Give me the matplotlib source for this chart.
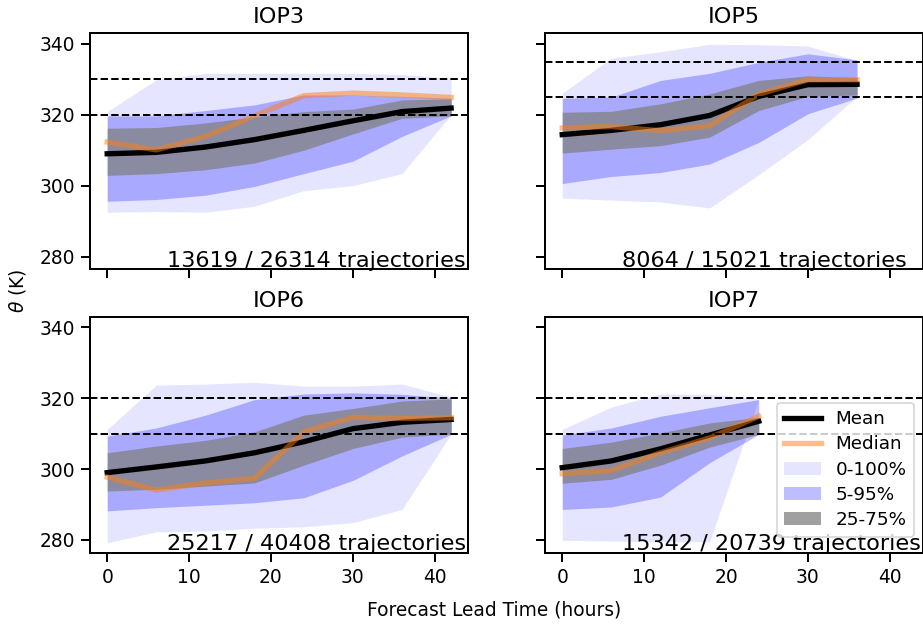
import matplotlib
matplotlib.use("Agg")
import matplotlib.pyplot as plt
from matplotlib.patches import Patch
from matplotlib.lines import Line2D

# lead times (hours)
t_iop3 = [0, 6, 12, 18, 24, 30, 36, 42]
t_iop5 = [0, 6, 12, 18, 24, 30, 36]
t_iop6 = [0, 6, 12, 18, 24, 30, 36, 42]
t_iop7 = [0, 6, 12, 18, 24]

# IOP3 theta percentiles (K)
iop3_p0 = [292.5, 292.7, 292.5, 294.2, 298.6, 300.0, 303.4, 320.0]
iop3_p100 = [320.9, 329.9, 331.7, 331.7, 331.7, 331.7, 331.4, 330.3]
iop3_p5 = [295.6, 296.1, 297.3, 299.8, 303.4, 306.9, 313.9, 319.7]
iop3_p95 = [319.7, 319.7, 321.2, 322.8, 325.6, 325.6, 325.2, 324.7]
iop3_p25 = [302.9, 303.4, 304.5, 306.4, 310.0, 314.6, 319.0, 319.7]
iop3_p75 = [316.2, 316.4, 317.7, 319.4, 320.9, 321.6, 324.2, 324.5]
iop3_mean = [309.0, 309.4, 310.9, 313.0, 315.6, 318.3, 320.9, 321.9]
iop3_median = [312.3, 310.1, 313.9, 319.7, 325.4, 326.1, 325.6, 324.9]

# IOP5
iop5_p0 = [296.5, 295.9, 295.4, 293.7, 303.1, 313.0, 325.2]
iop5_p100 = [326.1, 336.0, 337.8, 339.9, 339.8, 339.4, 335.3]
iop5_p5 = [300.6, 302.6, 303.7, 306.1, 312.2, 320.3, 324.7]
iop5_p95 = [324.7, 325.0, 329.7, 331.7, 334.8, 337.2, 335.5]
iop5_p25 = [309.2, 310.3, 311.3, 313.7, 321.2, 325.2, 325.6]
iop5_p75 = [320.7, 321.0, 323.1, 325.9, 329.7, 331.0, 330.5]
iop5_mean = [314.4, 315.6, 317.2, 319.8, 325.2, 328.5, 328.6]
iop5_median = [316.3, 316.7, 315.5, 316.9, 325.8, 329.9, 329.9]

# IOP6
iop6_p0 = [279.2, 282.3, 282.5, 283.3, 283.7, 284.9, 288.6, 309.9]
iop6_p100 = [311.2, 323.7, 324.0, 324.5, 323.4, 323.4, 324.0, 320.3]
iop6_p5 = [288.2, 289.1, 289.8, 290.5, 291.9, 296.8, 303.7, 309.8]
iop6_p95 = [309.3, 311.6, 315.2, 319.6, 321.2, 321.5, 321.1, 320.0]
iop6_p25 = [293.8, 294.3, 295.2, 296.1, 301.1, 305.8, 309.0, 309.9]
iop6_p75 = [304.6, 306.5, 308.1, 310.5, 315.2, 317.1, 319.2, 319.8]
iop6_mean = [299.0, 300.6, 302.3, 304.6, 307.7, 311.4, 313.2, 314.0]
iop6_median = [297.7, 294.1, 296.1, 297.4, 310.5, 314.6, 314.3, 314.5]

# IOP7
iop7_p0 = [279.9, 279.7, 279.5, 279.5, 319.8]
iop7_p100 = [311.2, 317.5, 321.2, 321.1, 319.8]
iop7_p5 = [288.6, 289.3, 292.1, 301.8, 309.8]
iop7_p95 = [309.6, 311.6, 314.9, 317.3, 319.6]
iop7_p25 = [296.0, 297.1, 301.1, 306.2, 309.8]
iop7_p75 = [305.8, 307.6, 310.2, 313.0, 314.6]
iop7_mean = [300.4, 302.3, 305.7, 309.6, 313.5]
iop7_median = [298.7, 299.6, 304.6, 308.8, 314.9]

names = ["IOP3", "IOP5", "IOP6", "IOP7"]
counts = ["13619 / 26314 trajectories", "8064 / 15021 trajectories",
          "25217 / 40408 trajectories", "15342 / 20739 trajectories"]
theta_bounds = [(320, 330), (325, 335), (310, 320), (310, 320)]

panels = [
    (t_iop3, iop3_p0, iop3_p100, iop3_p5, iop3_p95, iop3_p25, iop3_p75, iop3_mean, iop3_median),
    (t_iop5, iop5_p0, iop5_p100, iop5_p5, iop5_p95, iop5_p25, iop5_p75, iop5_mean, iop5_median),
    (t_iop6, iop6_p0, iop6_p100, iop6_p5, iop6_p95, iop6_p25, iop6_p75, iop6_mean, iop6_median),
    (t_iop7, iop7_p0, iop7_p100, iop7_p5, iop7_p95, iop7_p25, iop7_p75, iop7_mean, iop7_median),
]

plt.rcParams['font.size'] = 11.2
plt.rcParams['axes.linewidth'] = 1.2
plt.rcParams['xtick.major.size'] = 5.6
plt.rcParams['ytick.major.size'] = 5.6
plt.rcParams['xtick.major.width'] = 1.2
plt.rcParams['ytick.major.width'] = 1.2

fig = plt.figure(figsize=(923 / 120, 627 / 120), dpi=120)

# axes positions (left, bottom, width, height) in figure fraction
lefts = [0.0975, 0.5905]
bottoms = [0.5705, 0.1185]
w, h = 0.4099, 0.3764

axes = []
for i in range(4):
    row, col = divmod(i, 2)
    ax = fig.add_axes([lefts[col], bottoms[row], w, h])
    axes.append(ax)

for i, ax in enumerate(axes):
    t, p0, p100, p5, p95, p25, p75, mean, median = panels[i]
    ax.fill_between(t, p0, p100, color='blue', alpha=0.1, lw=0)
    ax.fill_between(t, p5, p95, color='blue', alpha=0.26, lw=0)
    ax.fill_between(t, p25, p75, color=(0.5, 0.5, 0.5), alpha=0.75, lw=0)
    ax.plot(t, mean, color='k', lw=3.2)
    ax.plot(t, median, color='C1', alpha=0.5, lw=3.2)
    for b in theta_bounds[i]:
        ax.axhline(b, color='k', ls='--', lw=1.2)
    ax.set_title(names[i], fontsize=13.4)
    ax.text(0.204, 0.01, counts[i], transform=ax.transAxes, fontsize=13.4,
            ha='left', va='baseline')
    ax.set_xlim(-2.1, 44.1)
    ax.set_ylim(276.4, 343.0)
    ax.set_xticks([0, 10, 20, 30, 40])
    ax.set_yticks([280, 300, 320, 340])
    row, col = divmod(i, 2)
    if row == 0:
        ax.set_xticklabels([])
    if col == 1:
        ax.set_yticklabels([])

handles = [Line2D([], [], color='k', lw=3.2),
           Line2D([], [], color='C1', alpha=0.5, lw=3.2),
           Patch(facecolor='blue', alpha=0.1),
           Patch(facecolor='blue', alpha=0.26),
           Patch(facecolor=(0.5, 0.5, 0.5), alpha=0.75)]
labels = ['Mean', 'Median', '0-100%', '5-95%', '25-75%']
axes[3].legend(handles, labels, loc='lower right', bbox_to_anchor=(0.975, 0.068),
               borderaxespad=0, fontsize=11, labelspacing=0.4)

fig.text(494 / 923, 1 - 610 / 627, 'Forecast Lead Time (hours)', ha='center', va='center')
fig.text(17 / 923, 1 - 291 / 627, r'$\theta$ (K)', rotation=90, ha='center', va='center')

fig.savefig('out.png', dpi=120)
